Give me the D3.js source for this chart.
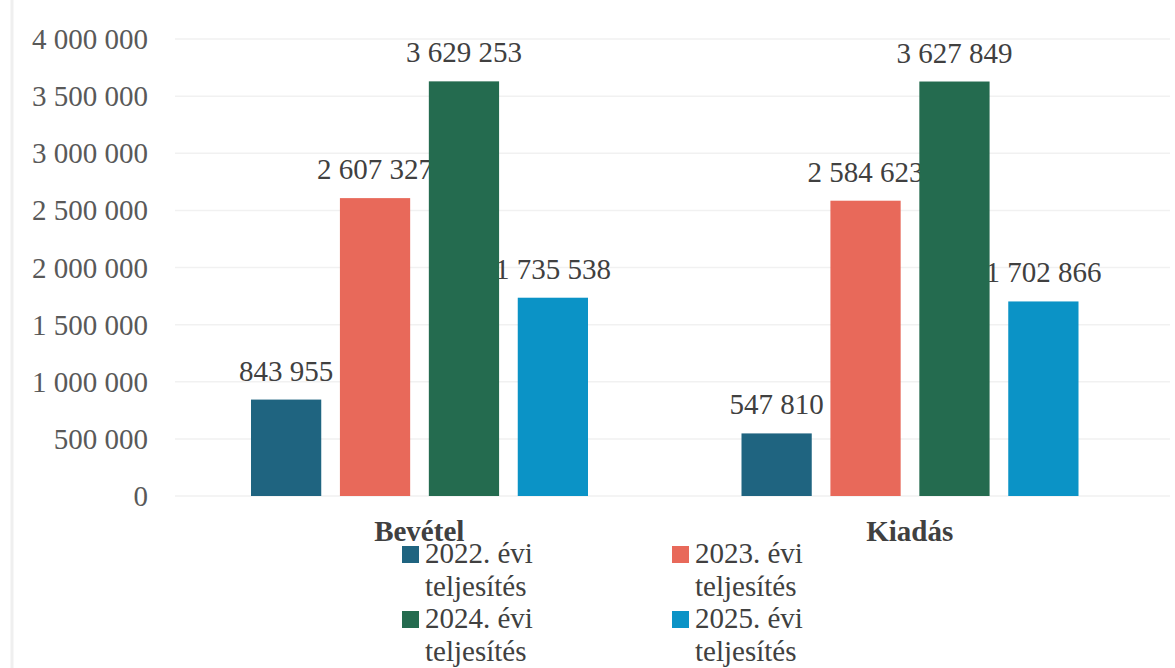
<!DOCTYPE html>
<html>
<head>
<meta charset="utf-8">
<script src="https://cdn.jsdelivr.net/npm/d3@7"></script>
<style>
  html, body { margin: 0; padding: 0; background: #fff; }
  svg { display: block; }
  svg text { font-family: "Liberation Serif", "Times New Roman", Times, "DejaVu Serif", serif; }
</style>
</head>
<body>
<svg id="chart" width="1175" height="668"></svg>
<script>
const categories = ["Bevétel", "Kiadás"];
const seriesNames = ["2022. évi teljesítés", "2023. évi teljesítés", "2024. évi teljesítés", "2025. évi teljesítés"];
const legendLines = [["2022. évi", "teljesítés"], ["2023. évi", "teljesítés"], ["2024. évi", "teljesítés"], ["2025. évi", "teljesítés"]];
const values2022 = [843955, 547810];
const values2023 = [2607327, 2584623];
const values2024 = [3629253, 3627849];
const values2025 = [1735538, 1702866];
const seriesValues = [values2022, values2023, values2024, values2025];
const colors = ["#1f6480", "#e8695a", "#246b4f", "#0b93c6"];
const yTicks = [0, 500000, 1000000, 1500000, 2000000, 2500000, 3000000, 3500000, 4000000];

const svg = d3.select("#chart");
const fmt = v => d3.format(",")(v).replace(/,/g, " ");

const y = d3.scaleLinear().domain([0, 4000000]).range([496, 39]);
const x0 = d3.scaleBand().domain(categories).range([174, 1155]).padding(0);
const x1 = d3.scaleBand().domain(seriesNames).range([77, 414]).paddingInner(0.21).paddingOuter(0);

// faint left edge line
svg.append("line").attr("x1", 12).attr("x2", 12).attr("y1", 0).attr("y2", 668)
  .attr("stroke", "#efefef").attr("stroke-width", 3);

// gridlines
svg.append("g").selectAll("line").data(yTicks).join("line")
  .attr("x1", 175).attr("x2", 1170)
  .attr("y1", d => y(d)).attr("y2", d => y(d))
  .attr("stroke", "#f1f1f1").attr("stroke-width", 1.5);

// y axis labels
const yAxis = d3.axisLeft(y).tickValues(yTicks).tickFormat(fmt).tickSize(0).tickPadding(0);
const ya = svg.append("g").attr("transform", "translate(148,0)").call(yAxis);
ya.select(".domain").remove();
ya.attr("font-family", null).attr("font-size", null);
ya.selectAll("text")
  .style("font-size", "29px").attr("fill", "#595959")
  .attr("dy", "0.33em");

const data = [];
categories.forEach((c, ci) => {
  seriesNames.forEach((s, si) => {
    data.push({ cat: c, series: s, si: si, value: seriesValues[si][ci] });
  });
});

// value labels (drawn beneath bars, as in reference)
svg.append("g").selectAll("text").data(data).join("text")
  .attr("x", d => x0(d.cat) + x1(d.series) + x1.bandwidth() / 2)
  .attr("y", d => y(d.value) - 19)
  .attr("text-anchor", "middle")
  .style("font-size", "29px").attr("fill", "#404040")
  .text(d => fmt(d.value));

// bars
svg.append("g").selectAll("rect").data(data).join("rect")
  .attr("x", d => x0(d.cat) + x1(d.series))
  .attr("width", x1.bandwidth())
  .attr("y", d => y(d.value))
  .attr("height", d => y(0) - y(d.value))
  .attr("fill", d => colors[d.si]);

// category labels
svg.append("g").selectAll("text").data(categories).join("text")
  .attr("x", d => x0(d) + x0.bandwidth() / 2)
  .attr("y", 541)
  .attr("text-anchor", "middle")
  .style("font-size", "29px").style("font-weight", "bold").attr("fill", "#404040")
  .text(d => d);

// legend
const legendX = [402, 672];
const legendY = [563, 628];
const lg = svg.append("g");
seriesNames.forEach((s, i) => {
  const col = i % 2, row = Math.floor(i / 2);
  const g = lg.append("g").attr("transform", `translate(${legendX[col]},${legendY[row]})`);
  g.append("rect").attr("x", 0).attr("y", -17).attr("width", 17).attr("height", 17).attr("fill", colors[i]);
  g.append("text").attr("x", 23).attr("y", 0)
    .style("font-size", "29px").attr("fill", "#404040")
    .text(legendLines[i][0]);
  g.append("text").attr("x", 23).attr("y", 33)
    .style("font-size", "29px").attr("fill", "#404040")
    .text(legendLines[i][1]);
});
</script>
</body>
</html>
